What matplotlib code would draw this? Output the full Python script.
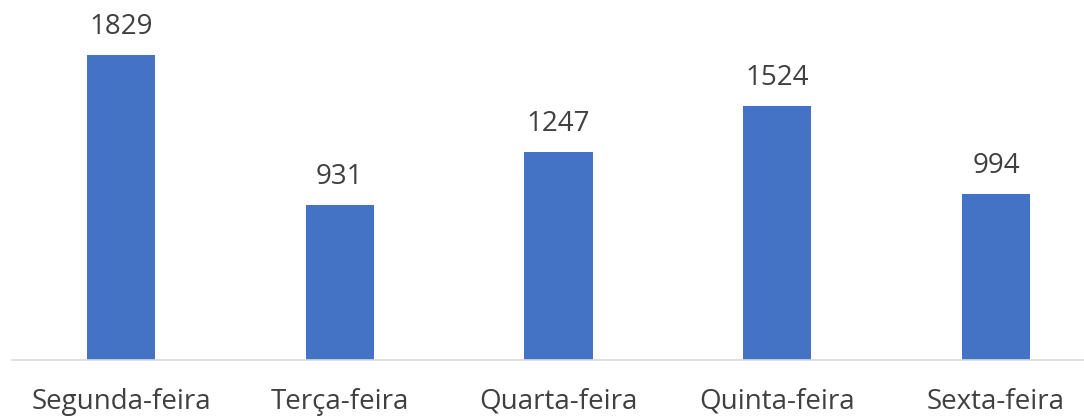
import matplotlib
matplotlib.use('Agg')
import matplotlib.pyplot as plt

matplotlib.rcParams['font.family'] = "Open Sans"

dias = ['Segunda-feira', 'Terça-feira', 'Quarta-feira', 'Quinta-feira', 'Sexta-feira']
valores = [1829, 931, 1247, 1524, 994]

W, H = 1084, 418
fig = plt.figure(figsize=(W / 100, H / 100), dpi=100)

# axes in pixel terms: baseline at y=360, slots of ~218.75 px starting at x=11.6
left = 11.6 / W
width = (218.75 * 5) / W
bottom = (H - 360) / H
height = 360 / H
ax = fig.add_axes([left, bottom, width, height])

x = range(len(dias))
ax.bar(x, valores, width=0.312, color='#4472C4')
ax.set_xlim(-0.5, len(dias) - 0.5)
ax.set_ylim(0, 2159)

for i, v in zip(x, valores):
    ax.annotate(str(v), xy=(i, v), xytext=(0, 10), textcoords='offset points',
                ha='center', va='bottom', fontsize=20, color='#404040')

ax.set_xticks(list(x))
ax.set_xticklabels(dias, fontsize=20, color='#404040')
ax.tick_params(axis='x', length=0, pad=20)
ax.set_yticks([])
for s in ['top', 'right', 'left']:
    ax.spines[s].set_visible(False)
ax.spines['bottom'].set_color('#D9D9D9')
ax.spines['bottom'].set_linewidth(1.2)

fig.savefig('out.png', dpi=100)
